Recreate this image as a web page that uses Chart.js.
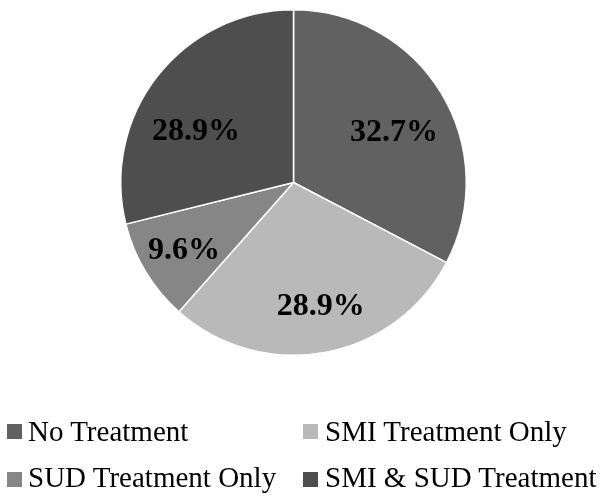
<!DOCTYPE html>
<html>
<head>
<meta charset="utf-8">
<script src="https://cdn.jsdelivr.net/npm/chart.js@4"></script>
<style>
    body { margin: 0; background: #fff; }
    #wrap { position: relative; width: 602px; height: 501px; }
    #pieChart { position: absolute; left: 0; top: 0; }
    .legend-text {
        position: absolute;
        font-family: 'Liberation Serif', 'Times New Roman', serif;
        font-size: 29px;
        line-height: 32px;
        color: #000;
        white-space: nowrap;
    }
    .legend-box {
        position: absolute;
        width: 15px;
        height: 15px;
    }
</style>
</head>
<body>
<div id="wrap">
    <canvas id="pieChart" width="602" height="501"></canvas>
</div>
<script>
const categories = ['No Treatment', 'SMI Treatment Only', 'SUD Treatment Only', 'SMI & SUD Treatment'];
const percentValues = [32.7, 28.9, 9.6, 28.9];
const sliceColors = ['#616161', '#b9b9b9', '#868686', '#4e4e4e'];

// legend layout (2 x 2 grid like the original)
const legendSpots = [
    { boxX: 7, boxY: 424, textX: 28, textY: 415 },
    { boxX: 303, boxY: 424, textX: 325, textY: 415 },
    { boxX: 7, boxY: 472, textX: 28, textY: 461 },
    { boxX: 303, boxY: 472, textX: 325, textY: 461 }
];

const wrapEl = document.getElementById('wrap');
categories.forEach((name, i) => {
    const box = document.createElement('div');
    box.className = 'legend-box';
    box.style.left = legendSpots[i].boxX + 'px';
    box.style.top = legendSpots[i].boxY + 'px';
    box.style.background = sliceColors[i];
    wrapEl.appendChild(box);

    const txt = document.createElement('div');
    txt.className = 'legend-text';
    txt.style.left = legendSpots[i].textX + 'px';
    txt.style.top = legendSpots[i].textY + 'px';
    txt.textContent = name;
    wrapEl.appendChild(txt);
});

// small hand nudges so labels sit where the original put them
const labelNudge = [[0, 11], [6, 9], [-9, 7], [-5, 22]];

// draws the percent text inside each slice
const sliceLabels = {
    id: 'sliceLabels',
    afterDatasetsDraw(chart) {
        const ctx = chart.ctx;
        const meta = chart.getDatasetMeta(0);
        ctx.save();
        ctx.font = 'bold 32px "Liberation Serif", "Times New Roman", serif';
        ctx.fillStyle = '#000';
        ctx.textAlign = 'center';
        ctx.textBaseline = 'middle';
        meta.data.forEach((arc, i) => {
            const p = arc.getProps(['x', 'y', 'startAngle', 'endAngle', 'outerRadius'], true);
            const mid = (p.startAngle + p.endAngle) / 2;
            const r = p.outerRadius * 0.68;
            const x = p.x + Math.cos(mid) * r + labelNudge[i][0];
            const y = p.y + Math.sin(mid) * r + labelNudge[i][1];
            ctx.fillText(percentValues[i].toFixed(1) + '%', x, y);
        });
        ctx.restore();
    }
};

new Chart(document.getElementById('pieChart').getContext('2d'), {
    type: 'pie',
    data: {
        labels: categories,
        datasets: [{
            data: percentValues,
            backgroundColor: sliceColors,
            borderColor: '#ffffff',
            borderWidth: 1.5
        }]
    },
    options: {
        responsive: false,
        animation: false,
        layout: { padding: { left: 120, right: 135, top: 9, bottom: 145 } },
        plugins: {
            legend: { display: false },
            tooltip: { enabled: false }
        }
    },
    plugins: [sliceLabels]
});
</script>
</body>
</html>
